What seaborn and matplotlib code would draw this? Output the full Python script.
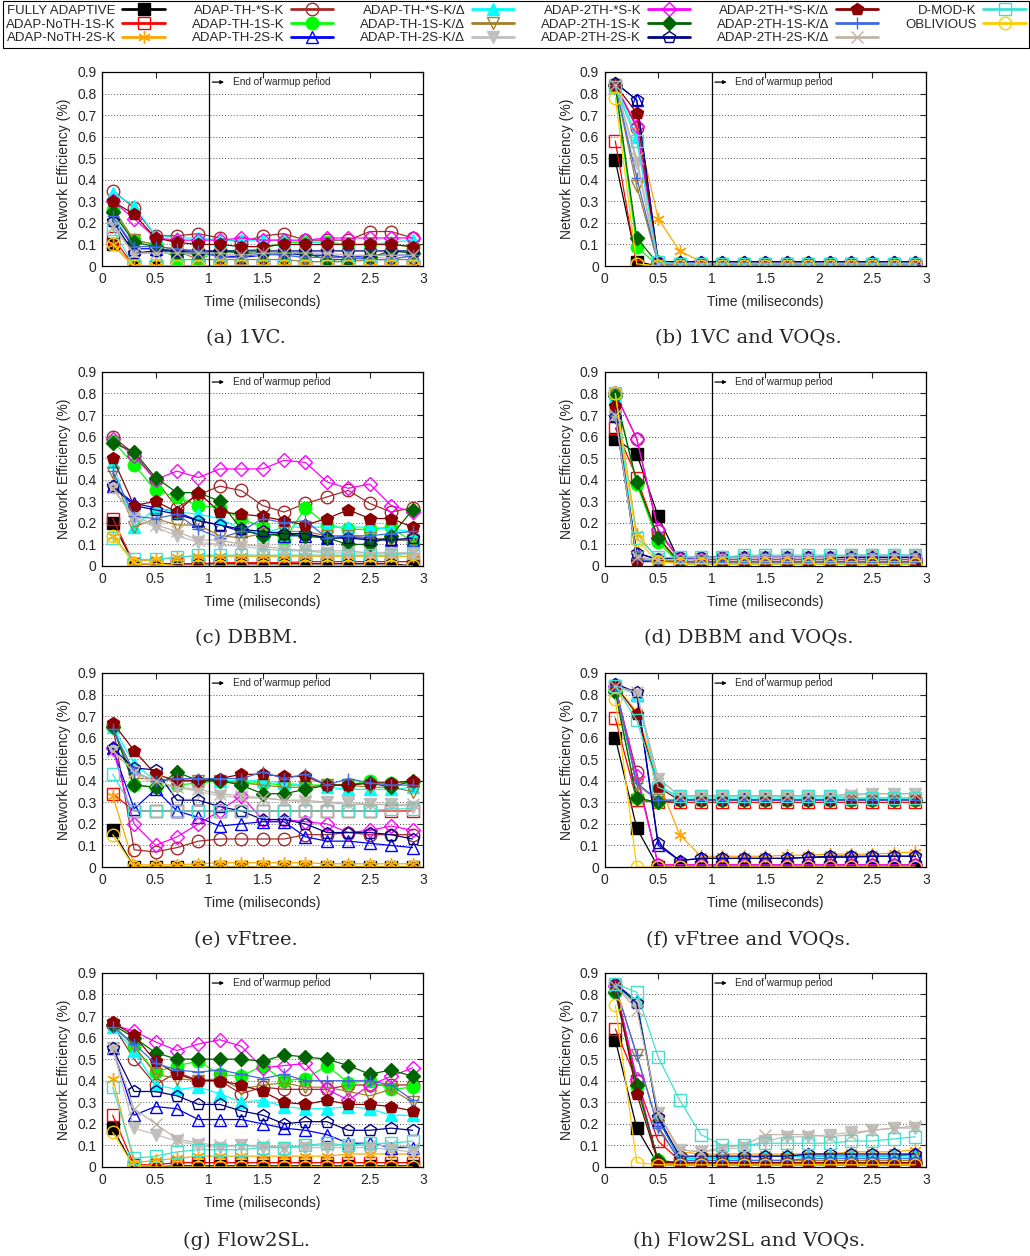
import matplotlib
matplotlib.use("Agg")
import matplotlib.pyplot as plt
import seaborn as sns

# time samples (ms)
TIME = [0.1, 0.3, 0.5, 0.7, 0.9, 1.1, 1.3, 1.5, 1.7, 1.9, 2.1, 2.3, 2.5, 2.7, 2.9]

SERIES = ["FULLY ADAPTIVE", "ADAP-NoTH-1S-K", "ADAP-NoTH-2S-K",
          "ADAP-TH-*S-K", "ADAP-TH-1S-K", "ADAP-TH-2S-K",
          "ADAP-TH-*S-K/Δ", "ADAP-TH-1S-K/Δ", "ADAP-TH-2S-K/Δ",
          "ADAP-2TH-*S-K", "ADAP-2TH-1S-K", "ADAP-2TH-2S-K",
          "ADAP-2TH-*S-K/Δ", "ADAP-2TH-1S-K/Δ", "ADAP-2TH-2S-K/Δ",
          "D-MOD-K", "OBLIVIOUS"]

CAPTIONS = ["(a) 1VC.", "(b) 1VC and VOQs.", "(c) DBBM.", "(d) DBBM and VOQs.",
            "(e) vFtree.", "(f) vFtree and VOQs.", "(g) Flow2SL.", "(h) Flow2SL and VOQs."]

eff_1vc = [
    [0.10, 0.00, 0.00, 0.00, 0.00, 0.00, 0.00, 0.00, 0.00, 0.00, 0.00, 0.00, 0.00, 0.00, 0.00],
    [0.13, 0.00, 0.00, 0.00, 0.00, 0.00, 0.00, 0.00, 0.00, 0.00, 0.00, 0.00, 0.00, 0.00, 0.00],
    [0.10, 0.00, 0.00, 0.00, 0.00, 0.00, 0.00, 0.00, 0.00, 0.00, 0.00, 0.00, 0.00, 0.00, 0.00],
    [0.35, 0.27, 0.14, 0.14, 0.15, 0.13, 0.11, 0.14, 0.15, 0.12, 0.12, 0.12, 0.16, 0.16, 0.13],
    [0.26, 0.12, 0.10, 0.03, 0.03, 0.07, 0.07, 0.08, 0.11, 0.11, 0.11, 0.10, 0.10, 0.10, 0.09],
    [0.23, 0.08, 0.08, 0.07, 0.06, 0.05, 0.04, 0.05, 0.06, 0.05, 0.05, 0.04, 0.05, 0.05, 0.05],
    [0.34, 0.28, 0.14, 0.13, 0.13, 0.12, 0.12, 0.12, 0.12, 0.11, 0.11, 0.10, 0.10, 0.11, 0.12],
    [0.27, 0.12, 0.10, 0.07, 0.03, 0.03, 0.03, 0.03, 0.03, 0.02, 0.02, 0.02, 0.03, 0.03, 0.03],
    [0.19, 0.06, 0.06, 0.06, 0.05, 0.05, 0.05, 0.05, 0.05, 0.04, 0.04, 0.04, 0.04, 0.04, 0.04],
    [0.30, 0.22, 0.13, 0.12, 0.12, 0.12, 0.13, 0.12, 0.12, 0.12, 0.13, 0.13, 0.13, 0.13, 0.13],
    [0.25, 0.11, 0.09, 0.06, 0.06, 0.07, 0.06, 0.06, 0.06, 0.06, 0.03, 0.03, 0.04, 0.07, 0.06],
    [0.21, 0.06, 0.07, 0.07, 0.07, 0.07, 0.07, 0.07, 0.07, 0.07, 0.07, 0.07, 0.07, 0.07, 0.07],
    [0.30, 0.24, 0.13, 0.11, 0.10, 0.10, 0.09, 0.09, 0.10, 0.10, 0.10, 0.10, 0.10, 0.10, 0.09],
    [0.23, 0.09, 0.09, 0.08, 0.07, 0.04, 0.04, 0.06, 0.05, 0.04, 0.04, 0.04, 0.03, 0.03, 0.05],
    [0.18, 0.06, 0.06, 0.06, 0.06, 0.06, 0.05, 0.06, 0.06, 0.06, 0.06, 0.05, 0.05, 0.05, 0.05],
    [0.17, 0.00, 0.00, 0.00, 0.00, 0.00, 0.00, 0.00, 0.00, 0.00, 0.00, 0.00, 0.00, 0.00, 0.00],
    [0.10, 0.00, 0.00, 0.00, 0.00, 0.00, 0.00, 0.00, 0.00, 0.00, 0.00, 0.00, 0.00, 0.00, 0.00],
]

eff_1vc_voq = [
    [0.49, 0.02, 0.00, 0.00, 0.00, 0.00, 0.00, 0.00, 0.00, 0.00, 0.00, 0.00, 0.00, 0.00, 0.00],
    [0.58, 0.00, 0.00, 0.00, 0.00, 0.00, 0.00, 0.00, 0.00, 0.00, 0.00, 0.00, 0.00, 0.00, 0.00],
    [0.84, 0.65, 0.22, 0.07, 0.02, 0.02, 0.02, 0.02, 0.02, 0.02, 0.02, 0.02, 0.02, 0.02, 0.02],
    [0.84, 0.64, 0.01, 0.01, 0.01, 0.01, 0.01, 0.01, 0.01, 0.01, 0.01, 0.01, 0.01, 0.01, 0.01],
    [0.83, 0.09, 0.00, 0.00, 0.00, 0.00, 0.00, 0.00, 0.00, 0.00, 0.00, 0.00, 0.00, 0.00, 0.00],
    [0.85, 0.77, 0.02, 0.02, 0.02, 0.02, 0.02, 0.02, 0.02, 0.02, 0.02, 0.02, 0.02, 0.02, 0.02],
    [0.84, 0.60, 0.01, 0.01, 0.01, 0.01, 0.01, 0.01, 0.01, 0.01, 0.01, 0.01, 0.01, 0.01, 0.01],
    [0.84, 0.37, 0.01, 0.01, 0.01, 0.01, 0.01, 0.01, 0.01, 0.01, 0.01, 0.01, 0.01, 0.01, 0.01],
    [0.84, 0.48, 0.01, 0.01, 0.01, 0.01, 0.01, 0.01, 0.01, 0.01, 0.01, 0.01, 0.01, 0.01, 0.01],
    [0.84, 0.65, 0.02, 0.01, 0.01, 0.01, 0.01, 0.01, 0.01, 0.01, 0.01, 0.01, 0.01, 0.01, 0.01],
    [0.84, 0.13, 0.01, 0.00, 0.00, 0.00, 0.00, 0.00, 0.00, 0.00, 0.00, 0.00, 0.00, 0.00, 0.00],
    [0.85, 0.77, 0.02, 0.02, 0.02, 0.02, 0.02, 0.02, 0.02, 0.02, 0.02, 0.02, 0.02, 0.02, 0.02],
    [0.84, 0.71, 0.01, 0.01, 0.01, 0.01, 0.01, 0.01, 0.01, 0.01, 0.01, 0.01, 0.01, 0.01, 0.01],
    [0.84, 0.41, 0.01, 0.01, 0.01, 0.01, 0.01, 0.01, 0.01, 0.01, 0.01, 0.01, 0.01, 0.01, 0.01],
    [0.84, 0.50, 0.01, 0.01, 0.01, 0.01, 0.01, 0.01, 0.01, 0.01, 0.01, 0.01, 0.01, 0.01, 0.01],
    [0.83, 0.58, 0.02, 0.01, 0.01, 0.01, 0.01, 0.01, 0.01, 0.01, 0.01, 0.01, 0.01, 0.01, 0.01],
    [0.78, 0.01, 0.00, 0.00, 0.00, 0.00, 0.00, 0.00, 0.00, 0.00, 0.00, 0.00, 0.00, 0.00, 0.00],
]

eff_dbbm = [
    [0.20, 0.01, 0.01, 0.01, 0.01, 0.01, 0.01, 0.01, 0.01, 0.01, 0.01, 0.01, 0.01, 0.01, 0.00],
    [0.22, 0.01, 0.01, 0.01, 0.01, 0.015, 0.015, 0.015, 0.015, 0.02, 0.02, 0.02, 0.02, 0.02, 0.02],
    [0.14, 0.02, 0.03, 0.04, 0.045, 0.045, 0.045, 0.045, 0.045, 0.045, 0.045, 0.045, 0.045, 0.045, 0.045],
    [0.60, 0.52, 0.40, 0.27, 0.33, 0.37, 0.35, 0.28, 0.25, 0.29, 0.32, 0.35, 0.29, 0.25, 0.27],
    [0.58, 0.47, 0.35, 0.32, 0.28, 0.27, 0.22, 0.18, 0.12, 0.27, 0.19, 0.17, 0.17, 0.18, 0.11],
    [0.37, 0.29, 0.27, 0.25, 0.21, 0.19, 0.16, 0.15, 0.14, 0.14, 0.13, 0.13, 0.13, 0.12, 0.12],
    [0.48, 0.18, 0.27, 0.25, 0.24, 0.22, 0.17, 0.15, 0.18, 0.18, 0.18, 0.18, 0.18, 0.17, 0.16],
    [0.43, 0.18, 0.22, 0.19, 0.19, 0.14, 0.13, 0.15, 0.16, 0.16, 0.14, 0.14, 0.13, 0.12, 0.12],
    [0.36, 0.22, 0.18, 0.14, 0.11, 0.10, 0.09, 0.08, 0.07, 0.07, 0.06, 0.06, 0.06, 0.06, 0.06],
    [0.59, 0.51, 0.40, 0.44, 0.41, 0.45, 0.45, 0.45, 0.49, 0.48, 0.39, 0.36, 0.38, 0.28, 0.25],
    [0.57, 0.53, 0.41, 0.34, 0.34, 0.30, 0.17, 0.14, 0.15, 0.14, 0.13, 0.10, 0.10, 0.14, 0.26],
    [0.37, 0.28, 0.26, 0.24, 0.21, 0.19, 0.17, 0.16, 0.15, 0.15, 0.13, 0.13, 0.12, 0.12, 0.13],
    [0.50, 0.28, 0.30, 0.25, 0.34, 0.25, 0.24, 0.23, 0.21, 0.19, 0.22, 0.26, 0.22, 0.22, 0.18],
    [0.44, 0.23, 0.22, 0.24, 0.17, 0.13, 0.16, 0.22, 0.20, 0.21, 0.13, 0.14, 0.14, 0.15, 0.16],
    [0.36, 0.23, 0.19, 0.16, 0.12, 0.12, 0.10, 0.09, 0.08, 0.07, 0.07, 0.07, 0.06, 0.06, 0.06],
    [0.13, 0.03, 0.03, 0.04, 0.05, 0.05, 0.05, 0.05, 0.05, 0.05, 0.05, 0.05, 0.05, 0.05, 0.06],
    [0.14, 0.01, 0.01, 0.00, 0.00, 0.00, 0.00, 0.00, 0.00, 0.00, 0.00, 0.00, 0.00, 0.00, 0.00],
]

eff_dbbm_voq = [
    [0.59, 0.52, 0.23, 0.02, 0.02, 0.02, 0.02, 0.02, 0.02, 0.02, 0.02, 0.02, 0.02, 0.02, 0.02],
    [0.64, 0.41, 0.13, 0.01, 0.01, 0.01, 0.01, 0.01, 0.01, 0.01, 0.01, 0.01, 0.01, 0.01, 0.01],
    [0.80, 0.15, 0.03, 0.03, 0.03, 0.03, 0.03, 0.03, 0.03, 0.03, 0.03, 0.03, 0.03, 0.03, 0.03],
    [0.80, 0.59, 0.16, 0.03, 0.03, 0.03, 0.03, 0.03, 0.03, 0.03, 0.03, 0.03, 0.03, 0.03, 0.03],
    [0.80, 0.38, 0.11, 0.01, 0.01, 0.01, 0.01, 0.01, 0.01, 0.01, 0.01, 0.01, 0.01, 0.01, 0.01],
    [0.70, 0.06, 0.03, 0.03, 0.04, 0.04, 0.04, 0.04, 0.04, 0.04, 0.04, 0.04, 0.04, 0.04, 0.04],
    [0.79, 0.04, 0.03, 0.03, 0.03, 0.03, 0.03, 0.03, 0.03, 0.03, 0.03, 0.03, 0.03, 0.03, 0.03],
    [0.69, 0.04, 0.02, 0.03, 0.03, 0.03, 0.03, 0.03, 0.03, 0.03, 0.03, 0.03, 0.03, 0.03, 0.03],
    [0.70, 0.03, 0.03, 0.03, 0.03, 0.04, 0.04, 0.04, 0.04, 0.04, 0.04, 0.05, 0.05, 0.05, 0.05],
    [0.80, 0.59, 0.17, 0.03, 0.03, 0.03, 0.03, 0.03, 0.03, 0.03, 0.03, 0.03, 0.03, 0.03, 0.03],
    [0.79, 0.39, 0.13, 0.02, 0.02, 0.02, 0.02, 0.02, 0.02, 0.02, 0.02, 0.02, 0.02, 0.02, 0.02],
    [0.69, 0.06, 0.03, 0.04, 0.04, 0.04, 0.04, 0.04, 0.04, 0.04, 0.04, 0.04, 0.04, 0.04, 0.04],
    [0.74, 0.02, 0.02, 0.02, 0.02, 0.02, 0.02, 0.02, 0.02, 0.02, 0.02, 0.02, 0.02, 0.02, 0.02],
    [0.70, 0.03, 0.02, 0.02, 0.02, 0.02, 0.02, 0.02, 0.02, 0.02, 0.02, 0.02, 0.02, 0.02, 0.02],
    [0.70, 0.04, 0.03, 0.03, 0.03, 0.04, 0.04, 0.04, 0.04, 0.04, 0.04, 0.05, 0.05, 0.05, 0.05],
    [0.80, 0.13, 0.04, 0.04, 0.04, 0.04, 0.05, 0.05, 0.05, 0.05, 0.05, 0.05, 0.05, 0.05, 0.05],
    [0.80, 0.12, 0.02, 0.01, 0.01, 0.01, 0.01, 0.01, 0.01, 0.01, 0.01, 0.01, 0.01, 0.01, 0.01],
]

eff_vftree = [
    [0.17, 0.00, 0.00, 0.00, 0.00, 0.00, 0.00, 0.00, 0.00, 0.00, 0.00, 0.00, 0.00, 0.00, 0.00],
    [0.34, 0.26, 0.26, 0.26, 0.26, 0.26, 0.26, 0.26, 0.26, 0.26, 0.26, 0.26, 0.26, 0.26, 0.26],
    [0.33, 0.01, 0.01, 0.01, 0.015, 0.02, 0.02, 0.02, 0.02, 0.02, 0.015, 0.015, 0.015, 0.015, 0.015],
    [0.66, 0.08, 0.07, 0.09, 0.12, 0.13, 0.13, 0.13, 0.13, 0.15, 0.15, 0.16, 0.15, 0.15, 0.15],
    [0.65, 0.38, 0.37, 0.38, 0.39, 0.40, 0.39, 0.39, 0.38, 0.38, 0.38, 0.38, 0.40, 0.39, 0.39],
    [0.55, 0.27, 0.36, 0.26, 0.23, 0.19, 0.20, 0.21, 0.21, 0.14, 0.12, 0.12, 0.11, 0.10, 0.09],
    [0.65, 0.48, 0.40, 0.41, 0.40, 0.40, 0.40, 0.40, 0.39, 0.38, 0.37, 0.36, 0.36, 0.36, 0.37],
    [0.65, 0.41, 0.41, 0.40, 0.40, 0.40, 0.39, 0.38, 0.37, 0.37, 0.38, 0.38, 0.37, 0.37, 0.35],
    [0.54, 0.44, 0.38, 0.37, 0.35, 0.33, 0.32, 0.32, 0.31, 0.30, 0.30, 0.30, 0.29, 0.29, 0.28],
    [0.55, 0.20, 0.10, 0.14, 0.20, 0.26, 0.33, 0.22, 0.22, 0.21, 0.20, 0.16, 0.17, 0.19, 0.17],
    [0.65, 0.38, 0.37, 0.44, 0.40, 0.40, 0.38, 0.34, 0.34, 0.36, 0.38, 0.38, 0.39, 0.37, 0.40],
    [0.55, 0.46, 0.45, 0.31, 0.31, 0.28, 0.26, 0.22, 0.22, 0.20, 0.16, 0.16, 0.16, 0.15, 0.13],
    [0.67, 0.54, 0.43, 0.40, 0.40, 0.41, 0.43, 0.43, 0.42, 0.42, 0.38, 0.38, 0.39, 0.39, 0.40],
    [0.64, 0.44, 0.40, 0.41, 0.41, 0.41, 0.41, 0.44, 0.41, 0.43, 0.38, 0.41, 0.39, 0.38, 0.38],
    [0.54, 0.44, 0.40, 0.37, 0.36, 0.34, 0.33, 0.32, 0.31, 0.31, 0.30, 0.29, 0.29, 0.29, 0.29],
    [0.43, 0.26, 0.26, 0.26, 0.26, 0.26, 0.26, 0.26, 0.26, 0.26, 0.26, 0.26, 0.26, 0.27, 0.27],
    [0.15, 0.00, 0.00, 0.00, 0.00, 0.00, 0.00, 0.00, 0.00, 0.00, 0.00, 0.00, 0.00, 0.00, 0.00],
]

eff_vftree_voq = [
    [0.60, 0.18, 0.00, 0.00, 0.00, 0.00, 0.00, 0.00, 0.00, 0.00, 0.00, 0.00, 0.00, 0.00, 0.00],
    [0.69, 0.31, 0.30, 0.30, 0.30, 0.30, 0.30, 0.30, 0.30, 0.30, 0.30, 0.30, 0.30, 0.30, 0.30],
    [0.84, 0.72, 0.40, 0.15, 0.05, 0.05, 0.05, 0.05, 0.055, 0.055, 0.06, 0.06, 0.06, 0.065, 0.07],
    [0.83, 0.44, 0.01, 0.01, 0.01, 0.01, 0.01, 0.01, 0.01, 0.01, 0.01, 0.01, 0.01, 0.01, 0.01],
    [0.82, 0.32, 0.30, 0.31, 0.31, 0.31, 0.31, 0.31, 0.31, 0.31, 0.31, 0.31, 0.31, 0.31, 0.31],
    [0.85, 0.80, 0.10, 0.03, 0.04, 0.04, 0.04, 0.04, 0.04, 0.045, 0.045, 0.045, 0.05, 0.05, 0.05],
    [0.84, 0.80, 0.38, 0.32, 0.32, 0.32, 0.32, 0.32, 0.32, 0.32, 0.32, 0.32, 0.32, 0.32, 0.32],
    [0.84, 0.38, 0.31, 0.31, 0.31, 0.31, 0.31, 0.31, 0.31, 0.31, 0.31, 0.31, 0.31, 0.31, 0.31],
    [0.84, 0.80, 0.41, 0.33, 0.33, 0.33, 0.33, 0.33, 0.33, 0.33, 0.33, 0.33, 0.34, 0.34, 0.34],
    [0.84, 0.42, 0.01, 0.01, 0.01, 0.01, 0.01, 0.01, 0.01, 0.01, 0.01, 0.01, 0.01, 0.01, 0.01],
    [0.81, 0.32, 0.30, 0.31, 0.31, 0.31, 0.31, 0.31, 0.31, 0.31, 0.31, 0.31, 0.31, 0.31, 0.31],
    [0.85, 0.81, 0.11, 0.03, 0.04, 0.04, 0.04, 0.04, 0.04, 0.045, 0.05, 0.05, 0.05, 0.05, 0.05],
    [0.84, 0.71, 0.37, 0.31, 0.31, 0.31, 0.31, 0.31, 0.31, 0.31, 0.31, 0.31, 0.31, 0.31, 0.31],
    [0.84, 0.39, 0.31, 0.31, 0.31, 0.31, 0.31, 0.31, 0.31, 0.31, 0.31, 0.31, 0.31, 0.31, 0.31],
    [0.84, 0.81, 0.41, 0.33, 0.33, 0.33, 0.33, 0.33, 0.33, 0.33, 0.33, 0.34, 0.34, 0.34, 0.34],
    [0.84, 0.68, 0.37, 0.33, 0.33, 0.33, 0.33, 0.33, 0.33, 0.33, 0.33, 0.32, 0.32, 0.32, 0.32],
    [0.78, 0.00, 0.00, 0.00, 0.00, 0.00, 0.00, 0.00, 0.00, 0.00, 0.00, 0.00, 0.00, 0.00, 0.00],
]

eff_flow2sl = [
    [0.18, 0.00, 0.00, 0.005, 0.005, 0.005, 0.005, 0.005, 0.005, 0.005, 0.005, 0.005, 0.005, 0.005, 0.005],
    [0.24, 0.01, 0.01, 0.02, 0.02, 0.02, 0.02, 0.02, 0.02, 0.02, 0.02, 0.02, 0.02, 0.02, 0.02],
    [0.41, 0.02, 0.03, 0.04, 0.05, 0.05, 0.05, 0.05, 0.05, 0.05, 0.05, 0.06, 0.06, 0.06, 0.06],
    [0.66, 0.50, 0.38, 0.44, 0.40, 0.40, 0.34, 0.37, 0.36, 0.36, 0.36, 0.38, 0.38, 0.38, 0.38],
    [0.66, 0.56, 0.44, 0.47, 0.49, 0.43, 0.42, 0.47, 0.40, 0.41, 0.47, 0.39, 0.40, 0.36, 0.37],
    [0.55, 0.24, 0.28, 0.27, 0.22, 0.22, 0.22, 0.20, 0.18, 0.17, 0.15, 0.11, 0.11, 0.09, 0.09],
    [0.65, 0.54, 0.38, 0.36, 0.37, 0.34, 0.30, 0.31, 0.28, 0.27, 0.27, 0.28, 0.27, 0.24, 0.24],
    [0.66, 0.56, 0.43, 0.41, 0.40, 0.41, 0.36, 0.38, 0.39, 0.37, 0.37, 0.35, 0.33, 0.36, 0.30],
    [0.55, 0.18, 0.15, 0.12, 0.10, 0.09, 0.10, 0.09, 0.09, 0.09, 0.09, 0.09, 0.09, 0.08, 0.07],
    [0.66, 0.63, 0.58, 0.54, 0.57, 0.59, 0.56, 0.46, 0.47, 0.48, 0.36, 0.31, 0.38, 0.42, 0.46],
    [0.66, 0.60, 0.53, 0.50, 0.50, 0.50, 0.50, 0.49, 0.52, 0.51, 0.50, 0.47, 0.43, 0.45, 0.42],
    [0.55, 0.35, 0.35, 0.33, 0.29, 0.29, 0.26, 0.24, 0.20, 0.21, 0.21, 0.17, 0.17, 0.18, 0.17],
    [0.67, 0.61, 0.49, 0.43, 0.40, 0.40, 0.38, 0.35, 0.30, 0.29, 0.31, 0.29, 0.29, 0.28, 0.26],
    [0.65, 0.57, 0.48, 0.45, 0.44, 0.45, 0.43, 0.41, 0.43, 0.40, 0.40, 0.40, 0.40, 0.38, 0.31],
    [0.55, 0.27, 0.20, 0.13, 0.11, 0.10, 0.10, 0.10, 0.09, 0.10, 0.10, 0.10, 0.10, 0.10, 0.09],
    [0.37, 0.04, 0.05, 0.07, 0.08, 0.08, 0.08, 0.09, 0.09, 0.10, 0.11, 0.10, 0.11, 0.11, 0.12],
    [0.16, 0.00, 0.00, 0.00, 0.00, 0.00, 0.00, 0.00, 0.00, 0.00, 0.00, 0.00, 0.00, 0.00, 0.00],
]

eff_flow2sl_voq = [
    [0.59, 0.18, 0.01, 0.01, 0.01, 0.01, 0.01, 0.01, 0.01, 0.01, 0.01, 0.01, 0.01, 0.01, 0.01],
    [0.64, 0.40, 0.12, 0.03, 0.03, 0.03, 0.03, 0.03, 0.03, 0.03, 0.03, 0.03, 0.03, 0.03, 0.03],
    [0.84, 0.76, 0.25, 0.07, 0.06, 0.06, 0.06, 0.06, 0.06, 0.06, 0.06, 0.07, 0.07, 0.07, 0.08],
    [0.84, 0.40, 0.02, 0.02, 0.02, 0.02, 0.02, 0.02, 0.02, 0.02, 0.02, 0.02, 0.02, 0.02, 0.02],
    [0.81, 0.37, 0.03, 0.02, 0.02, 0.02, 0.02, 0.02, 0.02, 0.02, 0.02, 0.02, 0.02, 0.02, 0.02],
    [0.85, 0.77, 0.22, 0.04, 0.04, 0.04, 0.04, 0.05, 0.05, 0.05, 0.05, 0.05, 0.05, 0.05, 0.06],
    [0.84, 0.77, 0.23, 0.04, 0.04, 0.04, 0.04, 0.05, 0.05, 0.05, 0.05, 0.05, 0.05, 0.05, 0.05],
    [0.84, 0.52, 0.19, 0.03, 0.03, 0.03, 0.03, 0.03, 0.03, 0.03, 0.03, 0.03, 0.03, 0.03, 0.03],
    [0.84, 0.75, 0.25, 0.08, 0.07, 0.08, 0.09, 0.12, 0.14, 0.14, 0.15, 0.16, 0.17, 0.18, 0.18],
    [0.84, 0.41, 0.02, 0.02, 0.02, 0.02, 0.02, 0.02, 0.02, 0.02, 0.02, 0.02, 0.02, 0.02, 0.02],
    [0.81, 0.38, 0.03, 0.02, 0.02, 0.02, 0.02, 0.02, 0.02, 0.02, 0.02, 0.02, 0.02, 0.02, 0.02],
    [0.85, 0.76, 0.23, 0.05, 0.05, 0.05, 0.05, 0.05, 0.05, 0.06, 0.06, 0.06, 0.06, 0.06, 0.06],
    [0.84, 0.34, 0.02, 0.02, 0.02, 0.02, 0.02, 0.02, 0.02, 0.02, 0.02, 0.02, 0.02, 0.02, 0.02],
    [0.84, 0.52, 0.18, 0.03, 0.03, 0.03, 0.03, 0.03, 0.03, 0.04, 0.04, 0.04, 0.04, 0.04, 0.04],
    [0.84, 0.73, 0.25, 0.08, 0.07, 0.09, 0.10, 0.15, 0.15, 0.15, 0.14, 0.15, 0.17, 0.18, 0.19],
    [0.85, 0.81, 0.51, 0.31, 0.15, 0.10, 0.10, 0.11, 0.11, 0.11, 0.11, 0.12, 0.12, 0.13, 0.14],
    [0.75, 0.02, 0.01, 0.01, 0.01, 0.01, 0.01, 0.01, 0.01, 0.01, 0.01, 0.01, 0.01, 0.01, 0.01],
]

PANELS = [eff_1vc, eff_1vc_voq, eff_dbbm, eff_dbbm_voq,
          eff_vftree, eff_vftree_voq, eff_flow2sl, eff_flow2sl_voq]

# (colour, marker, filled)
STYLES = [
    ("#000000", "s", True),
    ("#FF0000", "s", False),
    ("#FFA500", (6, 2, 0), True),
    ("#A52A2A", "o", False),
    ("#00FF00", "o", True),
    ("#0000FF", "^", False),
    ("#00FFFF", "^", True),
    ("#A0802A", "v", False),
    ("#C0C0C0", "v", True),
    ("#FF00FF", "D", False),
    ("#006400", "D", True),
    ("#000080", "p", False),
    ("#8B0000", "p", True),
    ("#4169E1", "+", True),
    ("#C0B4A8", "x", True),
    ("#40E0D0", "s", False),
    ("#FFCC00", "o", False),
]

sns.set_style("white")
plt.rcParams["font.family"] = ["Liberation Sans", "DejaVu Sans"]

fig = plt.figure(figsize=(10.30, 12.56), dpi=100)

lefts = [0.099, 0.587]
bottoms = [0.7882, 0.5494, 0.3097, 0.0709]
W, H = 0.312, 0.1545
cap_x = [0.239, 0.727]
cap_y = [0.731, 0.492, 0.2516, 0.0119]

axes = []
for i, vals in enumerate(PANELS):
    r, c = divmod(i, 2)
    ax = fig.add_axes([lefts[c], bottoms[r], W, H])
    axes.append(ax)
    for name, v, (col, mk, filled) in zip(SERIES, vals, STYLES):
        ms = 9 if mk not in ("D",) else 7.5
        sns.lineplot(x=TIME, y=v, ax=ax, color=col, marker=mk, markersize=ms,
                     markerfacecolor=col if filled else "none",
                     markeredgecolor=col, markeredgewidth=1.0,
                     linewidth=0.9, label=name, errorbar=None)
    ax.get_legend().remove()
    ax.axvline(1.0, color="black", linewidth=0.9)
    ax.annotate("", xy=(1.14, 0.853), xytext=(1.03, 0.853),
                arrowprops=dict(arrowstyle="-|>", color="black", lw=0.9,
                                mutation_scale=5, shrinkA=0, shrinkB=0))
    ax.text(1.22, 0.853, "End of warmup period", fontsize=7.2, va="center")
    ax.set_xlim(0, 3)
    ax.set_ylim(0, 0.9)
    ax.set_xticks([0, 0.5, 1, 1.5, 2, 2.5, 3])
    ax.set_xticklabels(["0", "0.5", "1", "1.5", "2", "2.5", "3"])
    ax.set_yticks([0, 0.1, 0.2, 0.3, 0.4, 0.5, 0.6, 0.7, 0.8, 0.9])
    ax.set_yticklabels(["0", "0.1", "0.2", "0.3", "0.4", "0.5", "0.6", "0.7", "0.8", "0.9"])
    for yv in [0.1, 0.2, 0.3, 0.4, 0.5, 0.6, 0.7, 0.8]:
        ax.axhline(yv, color="#555555", linewidth=0.7, linestyle=(0, (1, 2)), zorder=0)
    ax.tick_params(direction="in", length=4, width=0.8, labelsize=10,
                   top=True, right=True, pad=4)
    for sp in ax.spines.values():
        sp.set_color("black")
        sp.set_linewidth(0.9)
    ax.set_xlabel("Time (miliseconds)", fontsize=10, labelpad=7)
    ax.set_ylabel("Network Efficiency (%)", fontsize=10, labelpad=4)
    fig.text(cap_x[c], cap_y[r], CAPTIONS[i], ha="center", va="center",
             fontsize=14, family=["DejaVu Serif", "Liberation Serif"])

handles, labels = axes[0].get_legend_handles_labels()
leg = fig.legend(handles, labels, loc="upper left", ncol=6, markerfirst=False,
                 bbox_to_anchor=(0.003, 0.961, 0.996, 0.038), mode="expand",
                 fontsize=9.5, handlelength=3.2, handletextpad=0.5,
                 borderaxespad=0, labelspacing=0.12, columnspacing=0.8,
                 fancybox=False, framealpha=1, borderpad=0.25)
leg.get_frame().set_edgecolor("black")
leg.get_frame().set_linewidth(0.8)
for h in leg.legend_handles:
    h.set_linewidth(2)

fig.savefig("out.png", dpi=100)
